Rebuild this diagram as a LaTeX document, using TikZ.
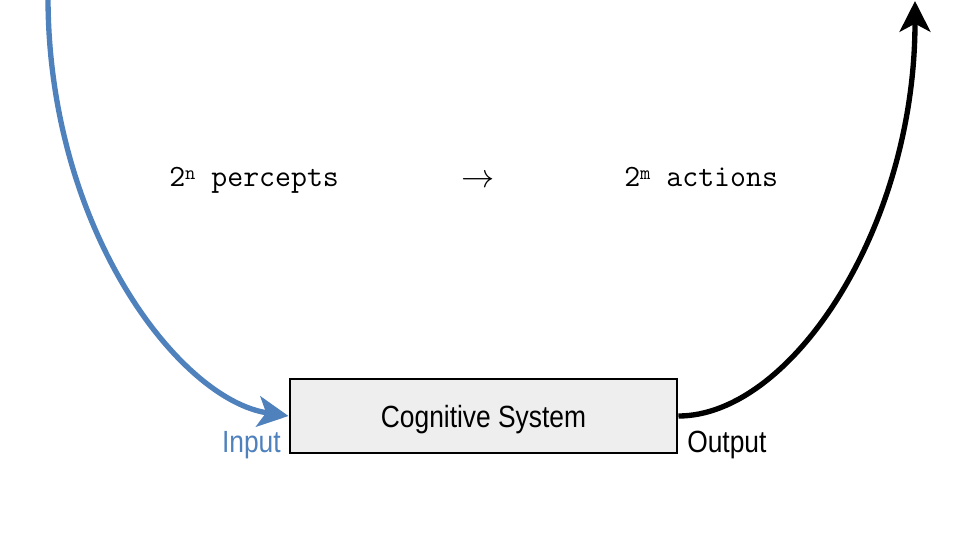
\documentclass[tikz,border=0pt]{standalone}
\usepackage{fontspec}
\usetikzlibrary{arrows.meta}
\newfontfamily\narrowsans[FakeStretch=0.86]{Liberation Sans}
\definecolor{inblue}{HTML}{4F81BD}
\definecolor{boxfill}{HTML}{EEEEEE}
\newcommand{\supmono}[1]{\raisebox{5pt}{\fontsize{15}{15}\selectfont #1}}
\tikzset{
  flow/.style={line width=4pt, -{Stealth[length=23pt,width=23pt,inset=6pt]}},
  sysbox/.style={draw=black, line width=2.2pt, fill=boxfill, minimum width=290.25pt, minimum height=55.5pt, inner sep=0pt, text depth=0pt, font=\narrowsans\fontsize{23}{27}\selectfont},
  lbl/.style={inner sep=0pt, font=\narrowsans\fontsize{23}{27}\selectfont},
  mono/.style={inner sep=0pt, font=\ttfamily\fontsize{23.2}{27}\selectfont}
}
\begin{document}
\begin{tikzpicture}[x=0.75pt,y=-0.75pt]
\useasboundingbox (0,0) rectangle (960,540);
\node[sysbox] (cs) at (483.5,416) {Cognitive System};
\coordinate (instart) at (48,-3);
\coordinate (outend) at (915,1);
\draw[flow, draw=inblue] (instart) .. controls (48,230) and (180,400) .. (cs.west);
\draw[flow, draw=black] (cs.east) .. controls (790,416) and (915,230) .. (outend);
\node[lbl, text=inblue, anchor=base east] (input) at (281,452) {Input};
\node[lbl, anchor=base west] (output) at (687,452) {Output};
\node[mono, anchor=base west] (percepts) at (169,186) {2\supmono{n} percepts};
\node[inner sep=0pt, font=\fontsize{23}{27}\selectfont] (maps) at (478,181) {$\rightarrow$};
\node[mono, anchor=base west] (actions) at (624,186) {2\supmono{m} actions};
\end{tikzpicture}
\end{document}
